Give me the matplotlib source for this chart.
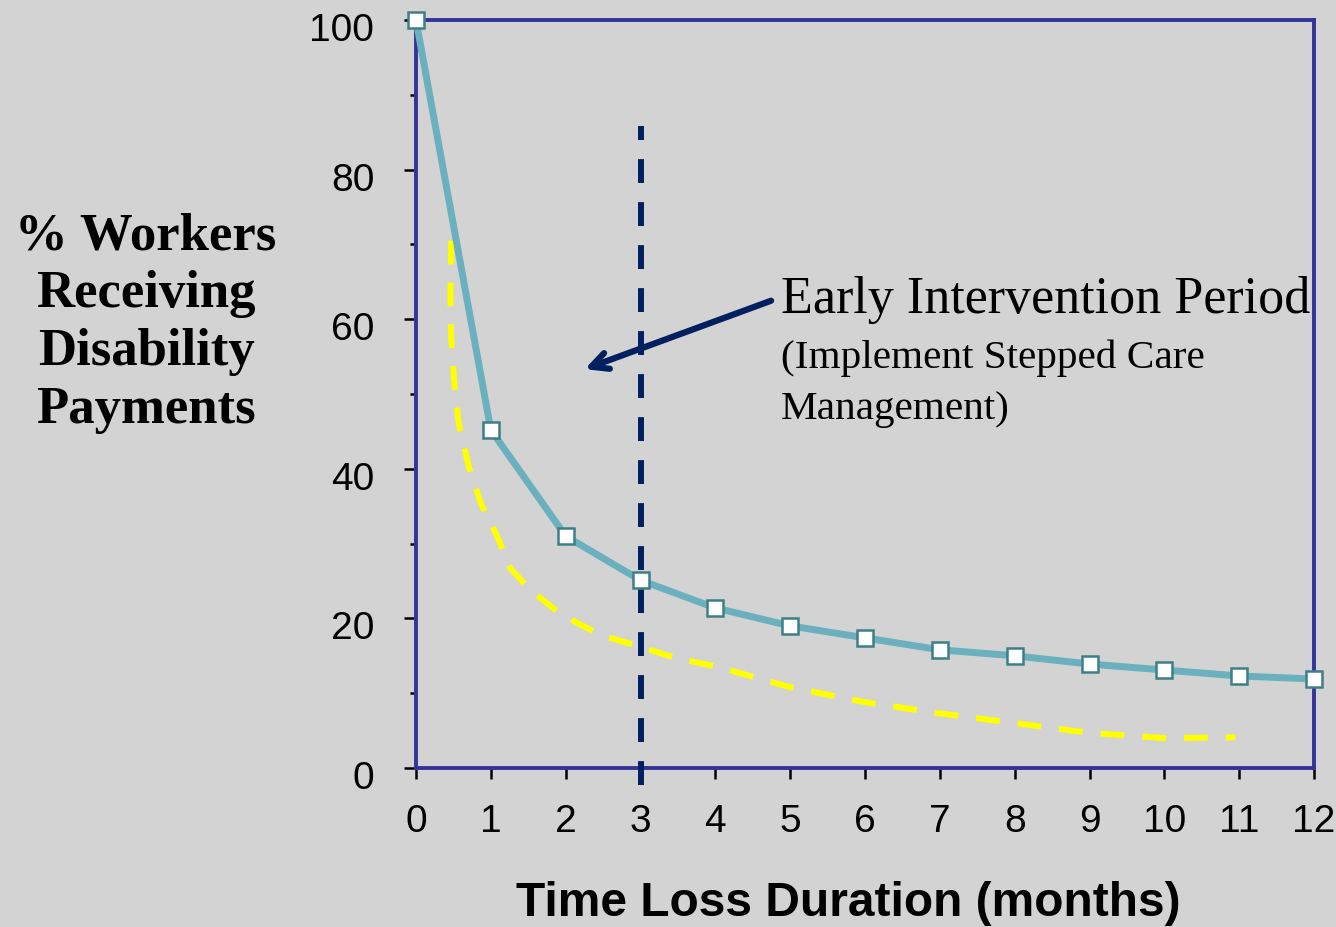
import matplotlib.pyplot as plt
from matplotlib.ticker import MultipleLocator
from matplotlib.transforms import ScaledTranslation

# data
months = list(range(0, 13))
pct_receiving = [100, 45.2, 31.0, 25.1, 21.4, 19.0, 17.4, 15.8, 15.0, 13.9, 13.1, 12.3, 11.9]

early_x = [0.47, 0.46, 0.47, 0.51, 0.57, 0.70, 0.87, 1.08, 1.26, 1.53, 1.93, 2.46,
           3.0, 3.47, 4.0, 5.0, 6.0, 7.0, 8.0, 9.0, 10.0, 10.95]
early_y = [70.5, 63.0, 57.5, 51.7, 46.1, 40.5, 35.3, 31.1, 26.7, 23.8, 20.6, 17.8,
           16.2, 14.7, 13.6, 10.8, 8.8, 7.3, 6.0, 4.7, 4.0, 4.1]

cutoff_month = 3
cutoff_top = 85.8

bg = "#d3d3d3"
navy = "#002060"

fig = plt.figure(figsize=(13.36, 9.27), dpi=100, facecolor=bg)
ax = fig.add_axes([416 / 1336, 1 - 768 / 927, 898 / 1336, 748 / 927])
ax.set_facecolor(bg)

ax.plot(early_x, early_y, color="#ffff00", lw=4.3, dashes=(4.0, 3.0), zorder=2)
ax.plot(months, pct_receiving, color="#6bb0be", lw=5, marker="s", markersize=11.5,
        markerfacecolor="white", markeredgecolor="#3d7f87", markeredgewidth=1.8,
        zorder=4, clip_on=False)
ax.plot([cutoff_month, cutoff_month], [-2.3, cutoff_top], color=navy, lw=4.3,
        dashes=(4.0, 3.2), zorder=3, clip_on=False)

ax.annotate("", xy=(2.22, 53.2), xytext=(4.78, 62.6),
            arrowprops=dict(arrowstyle="->,head_length=1.2,head_width=0.6",
                            color=navy, lw=4.5))
ax.text(4.88, 62.6, "Early Intervention Period", fontsize=37.5,
        family="Liberation Serif", va="center", ha="left")
ax.text(4.88, 54.8, "(Implement Stepped Care", fontsize=29.7,
        family="Liberation Serif", va="center", ha="left")
ax.text(4.88, 47.9, "Management)", fontsize=29.7,
        family="Liberation Serif", va="center", ha="left")

ax.set_xlim(0, 12)
ax.set_ylim(0, 100)
ax.set_xticks(months)
ax.yaxis.set_major_locator(MultipleLocator(20))
ax.yaxis.set_minor_locator(MultipleLocator(10))

for s in ax.spines.values():
    s.set_color("#333399")
    s.set_linewidth(2.8)

ax.tick_params(axis="both", which="major", colors="black", width=1.8,
               labelsize=28, labelfontfamily="Liberation Sans")
ax.tick_params(axis="y", which="major", length=9, pad=21)
ax.tick_params(axis="y", which="minor", length=4.5, width=1.8)
ax.tick_params(axis="x", which="major", length=8, pad=18)

# y tick labels sit a little below their ticks in the reference
shift = ScaledTranslation(0, -5 / 72, fig.dpi_scale_trans)
for lab in ax.get_yticklabels():
    lab.set_transform(lab.get_transform() + shift)

fig.text(848 / 1336, 1 - 903 / 927, "Time Loss Duration (months)", fontsize=34.5,
         fontweight="bold", family="Liberation Sans", ha="center", va="center")
fig.text(146 / 1336, 1 - 323 / 927, "% Workers\nReceiving\nDisability\nPayments",
         fontsize=38, fontweight="bold", family="Liberation Serif",
         ha="center", va="center", linespacing=1.265)

plt.savefig("out.png", dpi=100, facecolor=bg)
